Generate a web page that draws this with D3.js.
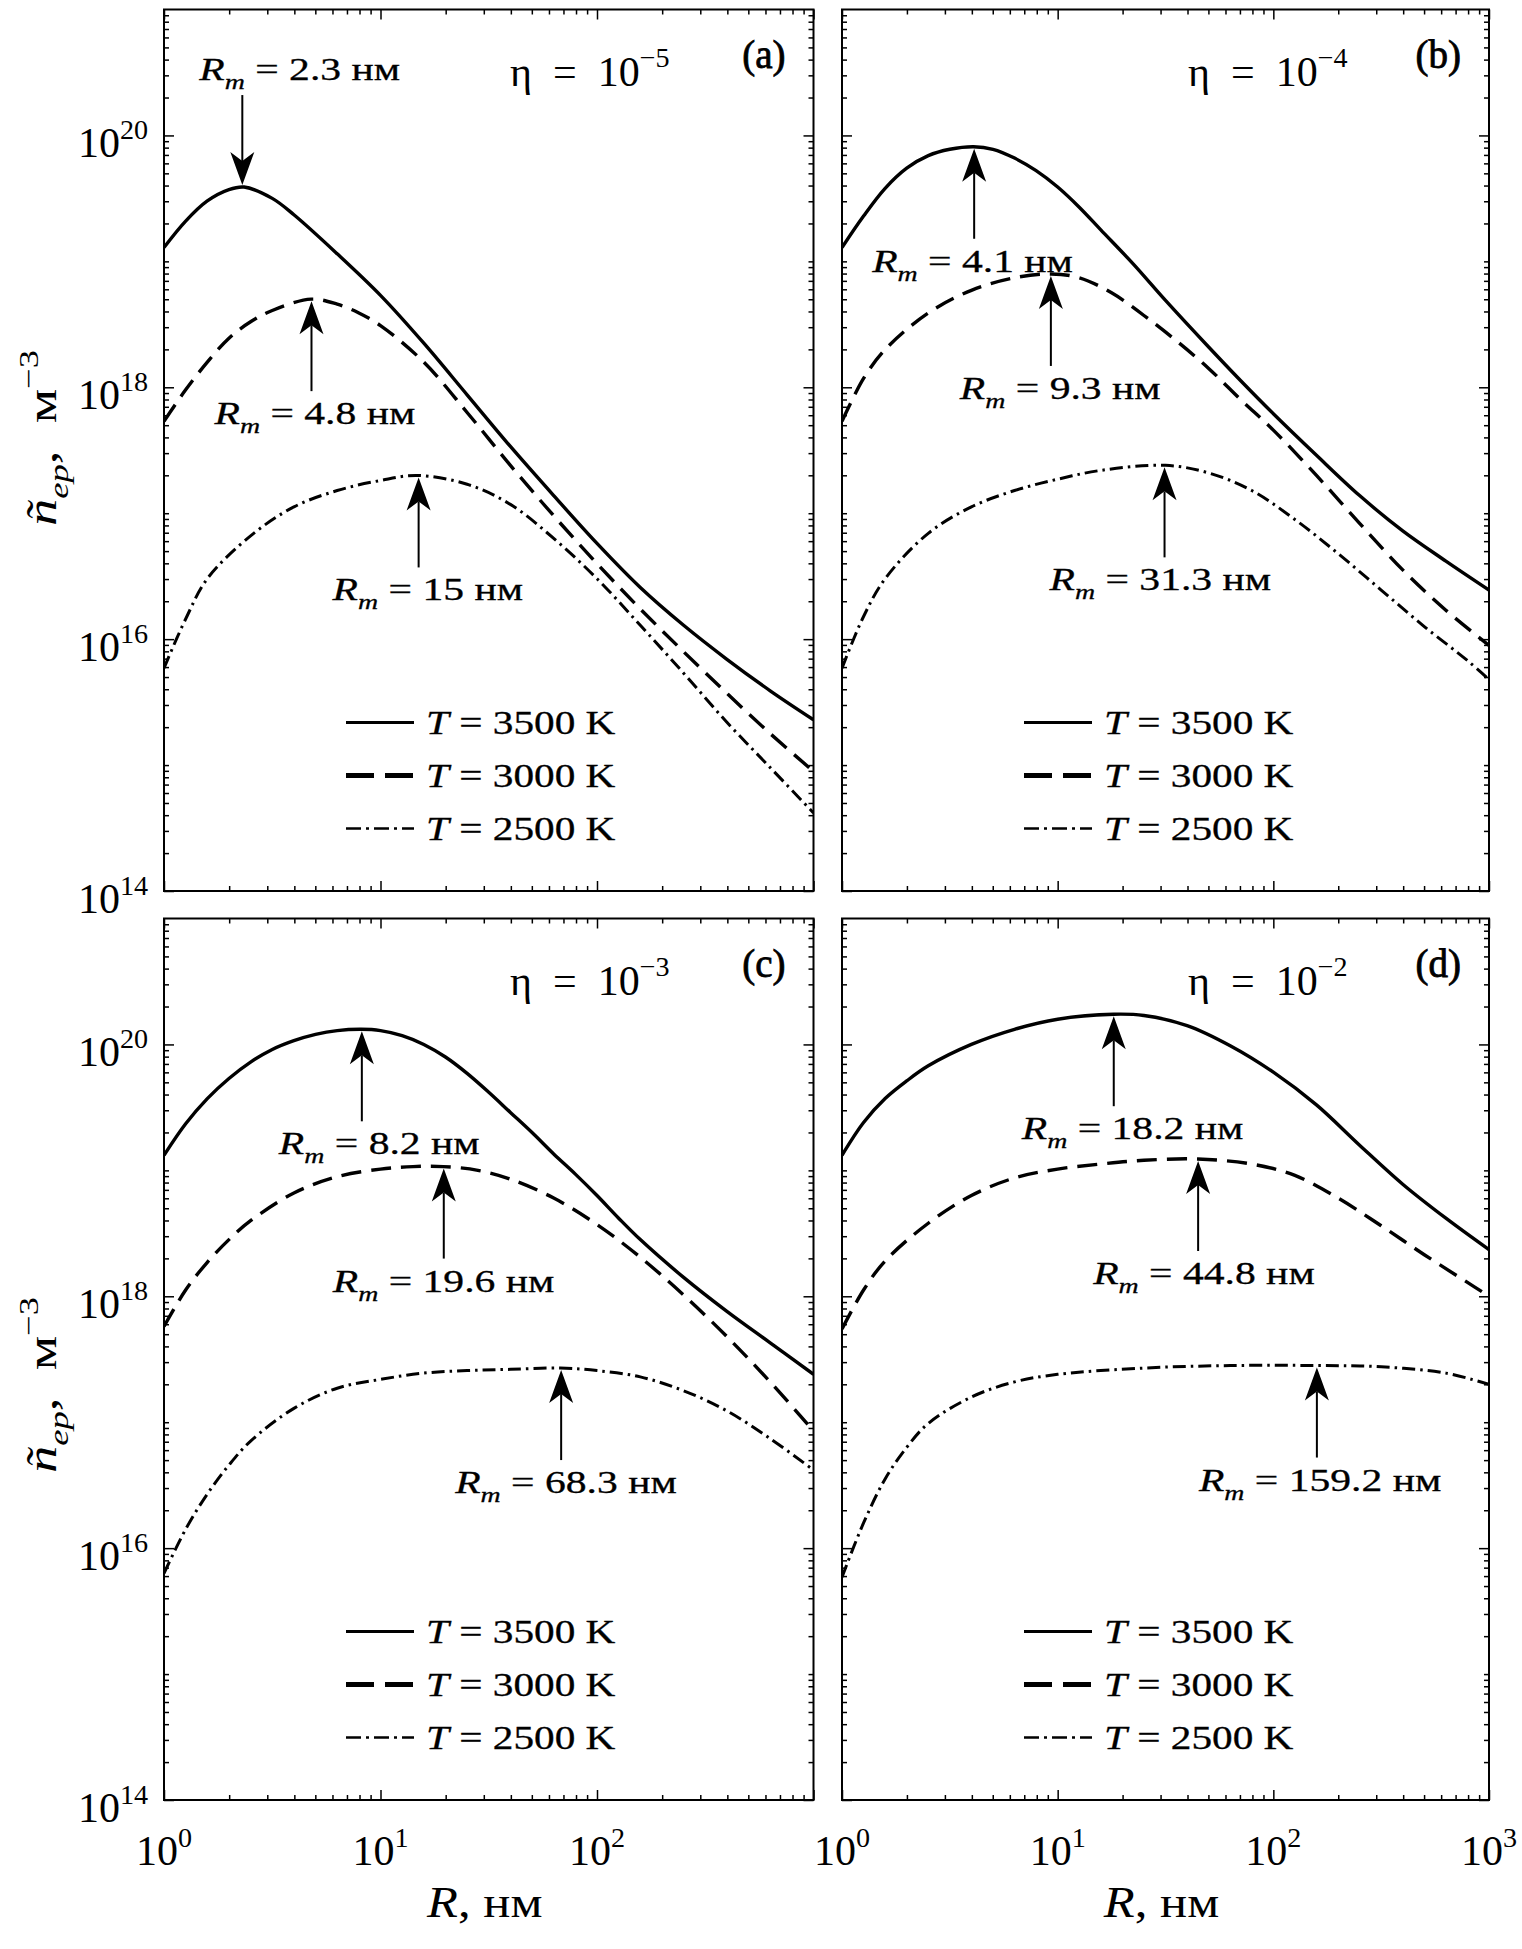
<!DOCTYPE html>
<html>
<head>
<meta charset="utf-8">
<script src="https://cdn.jsdelivr.net/npm/d3@7"></script>
<style>
  body { margin: 0; background: #fff; }
  svg { display: block; }
  text { white-space: pre; }
</style>
</head>
<body>
<svg id="fig" width="1522" height="1949"></svg>
<script>
// curves, pairs of [lg R (нм), lg n (м^-3)]
const a3500 = [[0,19.11],[0.1,19.32],[0.2,19.48],[0.3,19.57],[0.37,19.59],[0.5,19.5],[0.6,19.37],[0.8,19.06],[1.0,18.73],[1.2,18.35],[1.4,17.94],[1.6,17.53],[1.8,17.14],[2.0,16.76],[2.2,16.41],[2.4,16.11],[2.6,15.84],[2.8,15.59],[3.0,15.36]];
const a3000 = [[0,17.73],[0.1,17.98],[0.2,18.2],[0.3,18.39],[0.4,18.52],[0.5,18.61],[0.68,18.7],[0.8,18.66],[0.9,18.59],[1.0,18.49],[1.2,18.2],[1.4,17.8],[1.6,17.38],[1.8,16.98],[2.0,16.6],[2.2,16.24],[2.4,15.9],[2.6,15.57],[2.8,15.25],[3.0,14.95]];
const a2500 = [[0,15.77],[0.1,16.16],[0.2,16.48],[0.4,16.82],[0.6,17.05],[0.8,17.18],[1.0,17.26],[1.17,17.3],[1.4,17.23],[1.6,17.07],[1.8,16.8],[2.0,16.48],[2.2,16.11],[2.4,15.73],[2.6,15.34],[2.8,14.98],[3.0,14.62]];

const b3500 = [[0,19.11],[0.1,19.36],[0.2,19.58],[0.3,19.74],[0.4,19.84],[0.5,19.89],[0.61,19.91],[0.7,19.89],[0.8,19.82],[0.9,19.72],[1.0,19.59],[1.1,19.43],[1.2,19.25],[1.35,18.98],[1.5,18.69],[1.7,18.32],[1.85,18.05],[2.0,17.79],[2.2,17.46],[2.4,17.14],[2.6,16.86],[2.8,16.62],[3.0,16.39]];
const b3000 = [[0,17.73],[0.1,18.07],[0.2,18.3],[0.4,18.59],[0.6,18.77],[0.8,18.87],[0.97,18.9],[1.1,18.87],[1.25,18.75],[1.4,18.57],[1.55,18.37],[1.7,18.15],[1.85,17.9],[2.0,17.66],[2.2,17.3],[2.4,16.92],[2.6,16.55],[2.8,16.23],[3.0,15.95]];
const b2500 = [[0,15.77],[0.1,16.18],[0.2,16.48],[0.4,16.84],[0.6,17.05],[0.8,17.18],[1.0,17.27],[1.2,17.34],[1.5,17.38],[1.7,17.32],[1.9,17.18],[2.1,16.95],[2.3,16.68],[2.5,16.39],[2.7,16.1],[2.9,15.83],[3.0,15.68]];

const c3500 = [[0,19.12],[0.1,19.37],[0.2,19.57],[0.3,19.73],[0.4,19.86],[0.5,19.96],[0.6,20.03],[0.7,20.08],[0.8,20.11],[0.91,20.12],[1.0,20.11],[1.1,20.07],[1.2,20.0],[1.3,19.9],[1.4,19.77],[1.5,19.62],[1.6,19.46],[1.7,19.3],[1.8,19.13],[1.9,18.97],[2.0,18.8],[2.1,18.62],[2.2,18.45],[2.4,18.15],[2.6,17.88],[2.8,17.63],[3.0,17.38]];
const c3000 = [[0,17.76],[0.1,18.05],[0.2,18.27],[0.3,18.45],[0.4,18.6],[0.6,18.82],[0.8,18.95],[1.0,19.01],[1.15,19.03],[1.29,19.03],[1.45,19.0],[1.6,18.93],[1.8,18.78],[2.0,18.57],[2.2,18.31],[2.4,18.01],[2.6,17.68],[2.8,17.32],[3.0,16.93]];
const c2500 = [[0,15.8],[0.1,16.15],[0.2,16.43],[0.3,16.66],[0.4,16.85],[0.6,17.11],[0.8,17.27],[1.0,17.34],[1.2,17.39],[1.4,17.41],[1.6,17.42],[1.83,17.43],[2.0,17.41],[2.2,17.36],[2.4,17.25],[2.6,17.09],[2.8,16.87],[3.0,16.62]];

const d3500 = [[0,19.12],[0.1,19.38],[0.2,19.57],[0.3,19.71],[0.4,19.83],[0.6,20.0],[0.8,20.12],[1.0,20.2],[1.26,20.24],[1.4,20.23],[1.6,20.15],[1.8,19.99],[2.0,19.78],[2.2,19.52],[2.4,19.2],[2.6,18.89],[2.8,18.62],[3.0,18.37]];
const d3000 = [[0,17.74],[0.1,18.05],[0.2,18.28],[0.4,18.58],[0.6,18.8],[0.8,18.94],[1.0,19.01],[1.2,19.05],[1.4,19.08],[1.65,19.09],[1.9,19.05],[2.1,18.96],[2.3,18.78],[2.5,18.56],[2.7,18.33],[2.9,18.11],[3.0,18.0]];
const d2500 = [[0,15.77],[0.1,16.2],[0.2,16.55],[0.3,16.8],[0.4,16.99],[0.6,17.2],[0.8,17.32],[1.0,17.38],[1.4,17.43],[1.8,17.45],[2.2,17.45],[2.5,17.44],[2.8,17.39],[3.0,17.3]];

// peak radii marked with arrows, нм
const rmA = [2.3, 4.8, 15];
const rmB = [4.1, 9.3, 31.3];
const rmC = [8.2, 19.6, 68.3];
const rmD = [18.2, 44.8, 159.2];

const temps = [3500, 3000, 2500];
const etaPow = [-5, -4, -3, -2];
const letters = ["a", "b", "c", "d"];
const yLabelPows = [14, 16, 18, 20];
const xLabelPows = [0, 1, 2, 3];

// layout
const cols = [{x0: 164, x1: 813.5}, {x0: 842, x1: 1489}];
const rows = [{y0: 9.5, y1: 891, ylab: 438}, {y0: 918.5, y1: 1800, ylab: 1385}];
const panels = [
  {col: 0, row: 0, curves: [a3500, a3000, a2500], rm: rmA, dx: [-43, -97, -86], down: [true, false, false]},
  {col: 1, row: 0, curves: [b3500, b3000, b2500], rm: rmB, dx: [-102, -91, -115], down: [false, false, false]},
  {col: 0, row: 1, curves: [c3500, c3000, c2500], rm: rmC, dx: [-83, -111, -106], down: [false, false, false]},
  {col: 1, row: 1, curves: [d3500, d3000, d2500], rm: rmD, dx: [-92, -105, -118], down: [false, false, false]}
];
const lineStyle = [{dash: null, w: 3.4}, {dash: "20,10", w: 3.4}, {dash: "13,5,2.5,5", w: 3}];
const legStyle = [{dash: null, w: 2.8}, {dash: "28,11", w: 5}, {dash: "15,5,3,5", w: 2.5}];

const TIMES = "'Liberation Serif', 'Times New Roman', serif";

const svg = d3.select("#fig");

// text made of pieces, some italic / sub / sup
function mtext(g, x, y, parts, size, sx, anchor, heavy) {
  const t = g.append("text")
    .attr("transform", "translate(" + x + "," + y + ") scale(" + sx + ",1)")
    .attr("font-family", TIMES)
    .attr("font-size", size)
    .attr("text-anchor", anchor || "start")
    .attr("fill", "#000");
  if (heavy) t.attr("stroke", "#000").attr("stroke-width", heavy);
  let shift = 0;
  parts.forEach(p => {
    const s = t.append("tspan").text(p.t);
    let target = 0;
    if (p.sub) target = size * 0.28;
    if (p.sup) target = -size * 0.44;
    if (target - shift != 0) s.attr("dy", target - shift);
    shift = target;
    if (p.sub || p.sup) s.attr("font-size", size * 0.67);
    if (p.it) s.attr("font-style", "italic");
  });
  return t;
}

function arrow(g, x, yTip, dir) {
  // dir 1: tail below tip (points up), -1: tail above (points down)
  const L = 90, hl = 33, hw = 12, notch = 9;
  g.append("line")
    .attr("x1", x).attr("x2", x)
    .attr("y1", yTip + dir * L).attr("y2", yTip + dir * (hl - notch))
    .attr("stroke", "#000").attr("stroke-width", 2);
  g.append("path")
    .attr("d", "M" + x + "," + yTip + "L" + (x + hw) + "," + (yTip + dir * hl) +
      "L" + x + "," + (yTip + dir * (hl - notch)) + "L" + (x - hw) + "," + (yTip + dir * hl) + "Z")
    .attr("fill", "#000");
}

const majorX = [1, 10, 100, 1000];
let minorX = [];
for (let k = 0; k < 3; k++) for (let m = 2; m <= 9; m++) minorX.push(m * Math.pow(10, k));
let minorY = [];
for (let k = 14; k < 21; k++) for (let m = 1; m <= 9; m++) if (!(m == 1 && k % 2 == 0)) minorY.push(m * Math.pow(10, k));
const majorY = [1e14, 1e16, 1e18, 1e20];

panels.forEach((p, i) => {
  const c = cols[p.col], r = rows[p.row];
  const x = d3.scaleLog().domain([1, 1000]).range([c.x0, c.x1]);
  const y = d3.scaleLog().domain([1e14, 1e21]).range([r.y1, r.y0]);
  const g = svg.append("g");

  g.append("clipPath").attr("id", "clip" + i)
    .append("rect").attr("x", c.x0).attr("y", r.y0)
    .attr("width", c.x1 - c.x0).attr("height", r.y1 - r.y0);

  // ticks on all four sides, pointing in
  [[d3.axisBottom, r.y1], [d3.axisTop, r.y0]].forEach(([ax, pos]) => {
    g.append("g").attr("transform", "translate(0," + pos + ")")
      .call(ax(x).tickValues(majorX).tickSizeInner(-10).tickSizeOuter(0).tickFormat(""));
    g.append("g").attr("transform", "translate(0," + pos + ")")
      .call(ax(x).tickValues(minorX).tickSizeInner(-5).tickSizeOuter(0).tickFormat(""));
  });
  [[d3.axisLeft, c.x0], [d3.axisRight, c.x1]].forEach(([ax, pos]) => {
    g.append("g").attr("transform", "translate(" + pos + ",0)")
      .call(ax(y).tickValues(majorY).tickSizeInner(-10).tickSizeOuter(0).tickFormat(""));
    g.append("g").attr("transform", "translate(" + pos + ",0)")
      .call(ax(y).tickValues(minorY).tickSizeInner(-5).tickSizeOuter(0).tickFormat(""));
  });
  g.selectAll(".domain").remove();
  g.selectAll(".tick line").attr("stroke", "#000").attr("stroke-width", 1.5);

  g.append("rect").attr("x", c.x0).attr("y", r.y0)
    .attr("width", c.x1 - c.x0).attr("height", r.y1 - r.y0)
    .attr("fill", "none").attr("stroke", "#000").attr("stroke-width", 2);

  // curves
  const line = d3.line()
    .x(d => x(Math.pow(10, d[0])))
    .y(d => y(Math.pow(10, d[1])))
    .curve(d3.curveCatmullRom.alpha(0.5));
  p.curves.forEach((s, j) => {
    g.append("path").attr("d", line(s))
      .attr("clip-path", "url(#clip" + i + ")")
      .attr("fill", "none").attr("stroke", "#000")
      .attr("stroke-width", lineStyle[j].w)
      .attr("stroke-dasharray", lineStyle[j].dash);
  });

  // arrows at the maxima
  p.rm.forEach((rm, j) => {
    const top = d3.max(p.curves[j], d => d[1]);
    const ax = x(rm), ay = y(Math.pow(10, top));
    const parts = [{t: "R", it: true}, {t: "m", it: true, sub: true}, {t: " = "}, {t: String(rm) + " нм"}];
    if (p.down[j]) {
      arrow(g, ax, ay - 2, -1);
      mtext(g, ax + p.dx[j], ay - 2 - 90 - 15, parts, 32, 1.3, "start", 0.3);
    } else {
      arrow(g, ax, ay + 2, 1);
      mtext(g, ax + p.dx[j], ay + 2 + 90 + 33, parts, 32, 1.3, "start", 0.3);
    }
  });

  // legend
  temps.forEach((t, j) => {
    const ly = r.y0 + 713 + j * 53;
    g.append("line").attr("x1", c.x0 + 182).attr("x2", c.x0 + 250)
      .attr("y1", ly).attr("y2", ly)
      .attr("stroke", "#000").attr("stroke-width", legStyle[j].w)
      .attr("stroke-dasharray", legStyle[j].dash);
    mtext(g, c.x0 + 262, ly + 11, [{t: "T", it: true}, {t: " = " + t + " K"}], 33, 1.25, "start", 0.3);
  });

  // eta and panel letter
  mtext(g, c.x0 + 346, r.y0 + 76,
    [{t: "η\u2002=\u200210"}, {t: "\u2212" + Math.abs(etaPow[i]), sup: true}], 42, 1);
  mtext(g, c.x1 - 28, r.y0 + 58, [{t: "(" + letters[i] + ")"}], 39, 1, "end", 0.8);

  // tick labels
  if (p.col == 0) {
    yLabelPows.forEach(k => {
      mtext(g, c.x0 - 16, y(Math.pow(10, k)) + 22, [{t: "10"}, {t: String(k), sup: true}], 42, 1, "end");
    });
    const gl = g.append("g").attr("transform", "translate(56," + r.ylab + ") rotate(-90)");
    mtext(gl, 0, 0, [{t: "ñ", it: true}, {t: "ep", it: true, sub: true}, {t: ",\u2002м"}, {t: "\u22123", sup: true}], 42, 1.3, "middle");
  }
  if (p.row == 1) {
    xLabelPows.forEach(k => {
      if (p.col == 0 && k == 3) return;
      mtext(g, x(Math.pow(10, k)), r.y1 + 65, [{t: "10"}, {t: String(k), sup: true}], 42, 1, "middle");
    });
    mtext(g, (c.x0 + c.x1) / 2 - 4, r.y1 + 117, [{t: "R", it: true}, {t: ", нм"}], 44, 1.15, "middle");
  }
});
</script>
</body>
</html>
